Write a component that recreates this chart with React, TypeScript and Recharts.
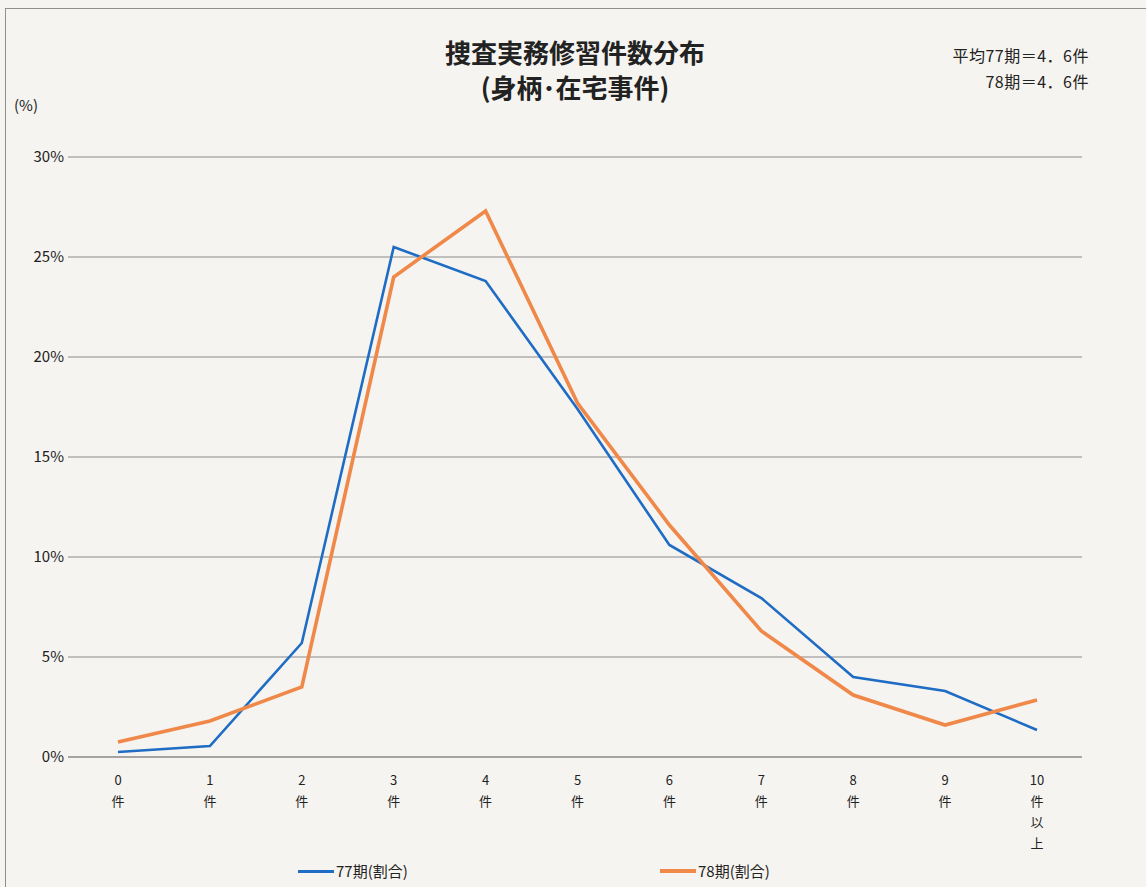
import React from "react";
import { LineChart, Line, XAxis, YAxis, CartesianGrid } from "recharts";

const categories = ["0", "1", "2", "3", "4", "5", "6", "7", "8", "9", "10"];
const tickLabels = [["0", "件"], ["1", "件"], ["2", "件"], ["3", "件"], ["4", "件"], ["5", "件"], ["6", "件"], ["7", "件"], ["8", "件"], ["9", "件"], ["10", "件", "以", "上"]];
const series77 = [0.25, 0.55, 5.7, 25.5, 23.8, 17.4, 10.6, 7.95, 4.0, 3.3, 1.35];
const series78 = [0.75, 1.8, 3.5, 24.0, 27.3, 17.7, 11.6, 6.3, 3.1, 1.6, 2.85];
const yTicks = [0, 5, 10, 15, 20, 25, 30];

const FONT = '"Noto Sans CJK JP", "Noto Sans", sans-serif';
const BLUE = "#1f6cc4";
const ORANGE = "#ef8848";

const data = categories.map((c, i) => ({ cat: c, s77: series77[i], s78: series78[i] }));

function CatTick(props: any) {
  const { x, y, index } = props;
  const lines = tickLabels[index] ?? [];
  return (
    <g>
      {lines.map((t, i) => (
        <text key={i} x={x} y={y + 20 + i * 21} textAnchor="middle" fontSize={13} fill="#222" fontFamily={FONT}>
          {t}
        </text>
      ))}
    </g>
  );
}

export default function App() {
  return (
    <div style={{ position: "absolute", left: 0, top: 0, width: 1146, height: 887, background: "#f6f4f0", overflow: "hidden", fontFamily: FONT }}>
      <div style={{ position: "absolute", left: 5, top: 8, right: -10, bottom: -10, border: "1px solid #8f8f8f" }} />
      <div style={{ position: "absolute", left: 0, width: 1150, top: 34, textAlign: "center", fontSize: 26, fontWeight: 700, lineHeight: "35px", color: "#222" }}>
        捜査実務修習件数分布
        <br />
        (身柄･在宅事件)
      </div>
      <div style={{ position: "absolute", right: 57, top: 42, textAlign: "right", fontSize: 16, lineHeight: "26px", color: "#222", letterSpacing: 0.5 }}>
        平均77期＝4．6件
        <br />
        78期＝4．6件
      </div>
      <div style={{ position: "absolute", left: 14, top: 94, fontSize: 15, color: "#222" }}>(%)</div>
      <LineChart width={1146} height={887} data={data} margin={{ top: 157, left: 8, right: 64, bottom: 0 }}>
        <CartesianGrid horizontal vertical={false} stroke="#8a8a8a" strokeWidth={1.2} />
        <XAxis
          dataKey="cat"
          axisLine={{ stroke: "#8a8a8a", strokeWidth: 1.2 }}
          tickLine={false}
          interval={0}
          padding={{ left: 50, right: 45 }}
          tick={<CatTick />}
          height={130}
        />
        <YAxis
          width={60}
          domain={[0, 30]}
          ticks={yTicks}
          axisLine={false}
          tickLine={false}
          tickSize={0}
          tickMargin={4}
          tickFormatter={(v: number) => `${v}%`}
          tick={{ fontSize: 15, fill: "#222", fontFamily: FONT }}
        />
        <Line type="linear" dataKey="s77" stroke={BLUE} strokeWidth={2.6} dot={false} isAnimationActive={false} />
        <Line type="linear" dataKey="s78" stroke={ORANGE} strokeWidth={3.6} dot={false} isAnimationActive={false} />
      </LineChart>
      <div style={{ position: "absolute", top: 862, left: 298, display: "flex", alignItems: "center", fontSize: 15, lineHeight: "18px", color: "#222" }}>
        <span style={{ display: "inline-block", width: 36, height: 3, background: BLUE, marginRight: 2 }} />
        77期(割合)
      </div>
      <div style={{ position: "absolute", top: 862, left: 660, display: "flex", alignItems: "center", fontSize: 15, lineHeight: "18px", color: "#222" }}>
        <span style={{ display: "inline-block", width: 36, height: 4, background: ORANGE, marginRight: 2 }} />
        78期(割合)
      </div>
    </div>
  );
}
